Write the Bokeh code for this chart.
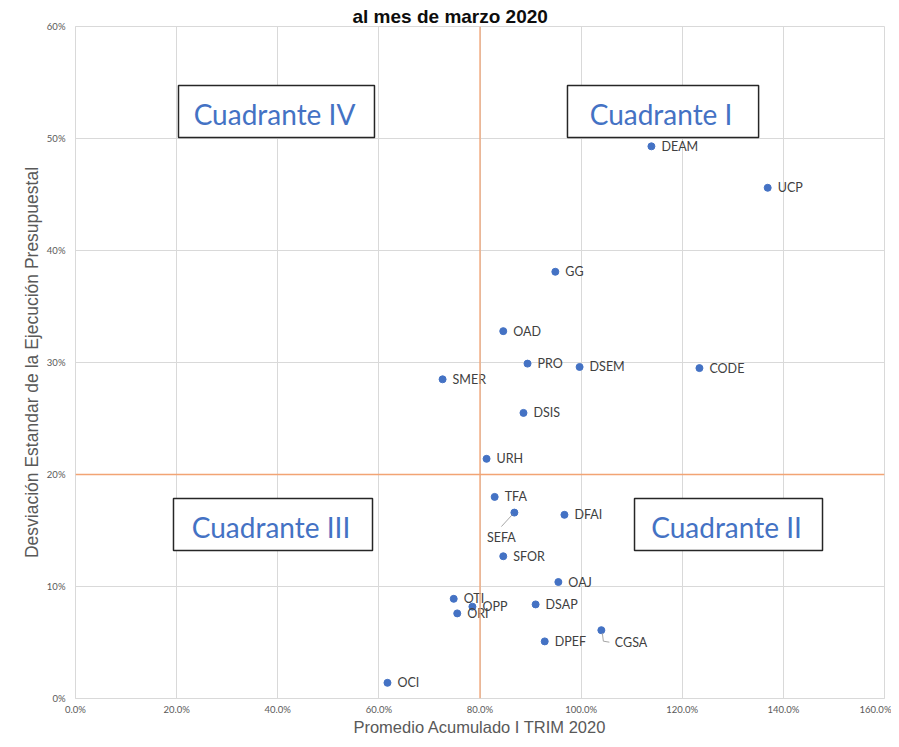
from bokeh.plotting import figure
from bokeh.models import Range1d, FixedTicker, NumeralTickFormatter, Span, ColumnDataSource
from bokeh.core.properties import value
from bokeh.embed import file_html
from bokeh.resources import INLINE

# ---------------- data ----------------
units = ["DEAM", "UCP", "GG", "OAD", "PRO", "DSEM", "CODE", "SMER", "DSIS", "URH",
         "TFA", "SEFA", "DFAI", "SFOR", "OAJ", "OTI", "OPP", "ORI", "DSAP", "DPEF",
         "CGSA", "OCI"]
promedio_pct = [113.9, 136.9, 94.9, 84.6, 89.4, 99.7, 123.4, 72.6, 88.6, 81.3,
                82.9, 86.8, 96.7, 84.6, 95.5, 74.8, 78.5, 75.5, 91.0, 92.8,
                104.0, 61.7]
desviacion_pct = [49.3, 45.6, 38.1, 32.8, 29.9, 29.6, 29.5, 28.5, 25.5, 21.4,
                  18.0, 16.6, 16.4, 12.7, 10.4, 8.9, 8.2, 7.6, 8.4, 5.1,
                  6.1, 1.4]
x_ticks_pct = [0, 20, 40, 60, 80, 100, 120, 140, 160]
y_ticks_pct = [0, 10, 20, 30, 40, 50, 60]
threshold_x_pct = 80
threshold_y_pct = 20
quadrant_names = ["Cuadrante IV", "Cuadrante I", "Cuadrante III", "Cuadrante II"]
title_text = "al mes de marzo 2020"
x_title = "Promedio Acumulado I TRIM 2020"
y_title = "Desviación Estandar de la Ejecución Presupuestal"

# ---------------- layout / style ----------------
W, H = 891, 739
ML, MR, MT, MB = 75, 7, 26, 41
FW, FH = W - ML - MR, H - MT - MB
XMAX, YMAX = 1.6, 0.6
PX_X = XMAX / FW     # data units per pixel
PX_Y = YMAX / FH

# quadrant box extents (fractions of axis) : left, right, top, bottom
quad_boxes = [(0.2037, 0.5913, 0.5473, 0.5009),
              (0.9730, 1.3510, 0.5473, 0.5009),
              (0.1938, 0.5874, 0.1786, 0.1321),
              (1.1056, 1.4774, 0.1786, 0.1321)]

BLUE = "#4472C4"
GRID = "#d9d9d9"
ORANGE = "#F2A474"
LABEL_FONT = value("Lato")

xs = [v / 100 for v in promedio_pct]
ys = [v / 100 for v in desviacion_pct]

p = figure(width=W, height=H, output_backend="svg", toolbar_location=None,
           x_range=Range1d(0, XMAX), y_range=Range1d(0, YMAX),
           min_border_left=ML, min_border_right=MR, min_border_top=MT,
           min_border_bottom=MB, title=title_text)
p.background_fill_color = "white"
p.border_fill_color = "white"
p.outline_line_color = GRID

# title
p.title.align = "left"
p.title.offset = 277
p.title.standoff = 0
p.title.text_font = "Liberation Sans"
p.title.text_font_style = "bold"
p.title.text_font_size = "19px"
p.title.text_color = "#0d0d0d"

# axes
p.xaxis.ticker = FixedTicker(ticks=[v / 100 for v in x_ticks_pct])
p.yaxis.ticker = FixedTicker(ticks=[v / 100 for v in y_ticks_pct])
p.xaxis.formatter = NumeralTickFormatter(format="0.0%")
p.yaxis.formatter = NumeralTickFormatter(format="0%")
for ax in (p.xaxis, p.yaxis):
    ax.axis_line_color = GRID
    ax.major_tick_line_color = None
    ax.major_tick_out = 0
    ax.major_tick_in = 0
    ax.minor_tick_line_color = None
    ax.major_label_text_font = "Lato"
    ax.major_label_text_font_size = "9.5px"
    ax.major_label_text_color = "#595959"
    ax.axis_label_text_font = "Liberation Sans"
    ax.axis_label_text_font_style = "normal"
    ax.axis_label_text_color = "#595959"
p.xaxis.axis_label_text_font_size = "16.5px"
p.yaxis.axis_label_text_font_size = "17.5px"
p.xaxis.major_label_standoff = 5
p.yaxis.major_label_standoff = 10
p.xaxis.axis_label_standoff = 0
p.yaxis.axis_label_standoff = 2
p.xaxis.axis_label = x_title
p.yaxis.axis_label = y_title
p.grid.grid_line_color = GRID
p.grid.grid_line_width = 1

# quadrant threshold lines
p.add_layout(Span(location=threshold_x_pct / 100, dimension="height",
                  line_color=ORANGE, line_width=1.3))
p.add_layout(Span(location=threshold_y_pct / 100, dimension="width",
                  line_color=ORANGE, line_width=1.3))

# quadrant boxes
p.quad(left=[b[0] for b in quad_boxes], right=[b[1] for b in quad_boxes],
       top=[b[2] for b in quad_boxes], bottom=[b[3] for b in quad_boxes],
       fill_color="white", line_color="#262626", line_width=1.5)
p.text(x=[(b[0] + b[1]) / 2 for b in quad_boxes],
       y=[(b[2] + b[3]) / 2 for b in quad_boxes],
       text=quadrant_names, text_align="center", text_baseline="middle",
       text_font=LABEL_FONT, text_font_size="28px", text_color=BLUE,
       y_offset=2, x_offset=-2)

# points
special = {"SEFA": (-13, 25, "center"), "CGSA": (13.5, 12.5, "left")}
src = ColumnDataSource(dict(x=xs, y=ys, name=units))
p.scatter("x", "y", source=src, size=7, fill_color=BLUE, line_color=BLUE)

reg = [i for i, n in enumerate(units) if n not in special]
p.text(x=[xs[i] for i in reg], y=[ys[i] for i in reg], text=[units[i] for i in reg],
       x_offset=10, text_baseline="middle", text_align="left",
       text_font=LABEL_FONT, text_font_size="12.5px", text_color="#404040")
for n, (dx, dy, al) in special.items():
    i = units.index(n)
    p.text(x=[xs[i]], y=[ys[i]], text=[n], x_offset=dx, y_offset=dy,
           text_baseline="middle", text_align=al,
           text_font=LABEL_FONT, text_font_size="12.5px", text_color="#404040")

# leader lines (pixel offsets from the point)
i = units.index("SEFA")
p.line([xs[i] - 2 * PX_X, xs[i] - 13 * PX_X], [ys[i] - 2 * PX_Y, ys[i] - 14 * PX_Y],
       line_color="#a6a6a6", line_width=1)
i = units.index("CGSA")
p.line([xs[i] + 1 * PX_X, xs[i] + 2 * PX_X, xs[i] + 8 * PX_X],
       [ys[i] - 3 * PX_Y, ys[i] - 11 * PX_Y, ys[i] - 12 * PX_Y],
       line_color="#a6a6a6", line_width=1)

open("out.html", "w").write(file_html(p, INLINE))
